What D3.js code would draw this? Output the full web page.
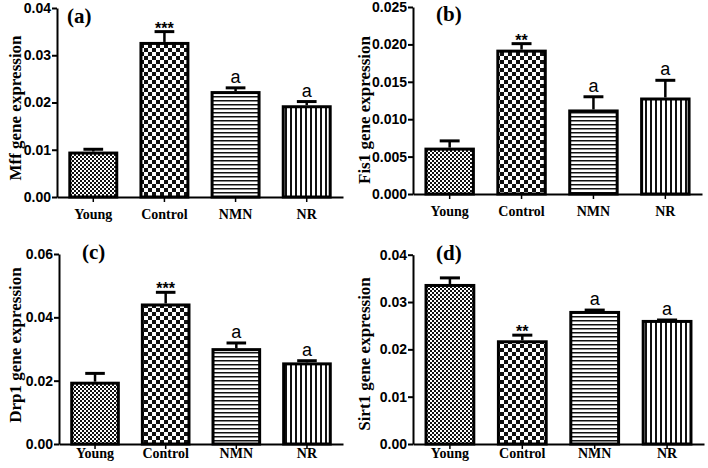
<!DOCTYPE html>
<html><head><meta charset="utf-8">
<script src="https://cdn.jsdelivr.net/npm/d3@7/dist/d3.min.js"></script>
<style>body{margin:0;background:#fff}svg{display:block}</style>
</head><body>
<svg id="c" width="708" height="468"></svg>
<script>
const categories = ["Young", "Control", "NMN", "NR"];
const panelLetters = ["(a)", "(b)", "(c)", "(d)"];
const yTitles = ["Mff gene expression", "Fis1 gene expression", "Drp1 gene expression", "Sirt1 gene expression"];
const yMax = [0.04, 0.025, 0.06, 0.04];
const yTicks = [
  ["0.00","0.01","0.02","0.03","0.04"],
  ["0.000","0.005","0.010","0.015","0.020","0.025"],
  ["0.00","0.02","0.04","0.06"],
  ["0.00","0.01","0.02","0.03","0.04"]
];
const mffMean = [0.0093, 0.0325, 0.0221, 0.0191];
const mffErr  = [0.0101, 0.0350, 0.0231, 0.0202];
const fis1Mean = [0.0060, 0.0191, 0.0111, 0.0127];
const fis1Err  = [0.0071, 0.0201, 0.0130, 0.0152];
const drp1Mean = [0.0192, 0.0439, 0.0298, 0.0253];
const drp1Err  = [0.0223, 0.0479, 0.0319, 0.0263];
const sirt1Mean = [0.0335, 0.0216, 0.0278, 0.0259];
const sirt1Err  = [0.0351, 0.0230, 0.0283, 0.0262];
const mffSig = ["", "***", "a", "a"];
const fis1Sig = ["", "**", "a", "a"];
const drp1Sig = ["", "***", "a", "a"];
const sirt1Sig = ["", "**", "a", "a"];

const means = [mffMean, fis1Mean, drp1Mean, sirt1Mean];
const errs = [mffErr, fis1Err, drp1Err, sirt1Err];
const sigs = [mffSig, fis1Sig, drp1Sig, sirt1Sig];

// layout (pixel frames for each panel)
const frames = [
  {x0:57, x1:343, yb:197, yt:8, tx:16, tcy:108, lx:10, ly:15, xly:12},
  {x0:413, x1:702, yb:194, yt:7, tx:365, tcy:110, lx:23, ly:14, xly:12},
  {x0:59, x1:343, yb:444, yt:254, tx:16, tcy:345, lx:23, ly:5, xly:4},
  {x0:413, x1:704, yb:444, yt:254.7, tx:365, tcy:354, lx:23, ly:5, xly:4}
];

const svg = d3.select("#c");
const defs = svg.append("defs");
// Young: fine checker
let p = defs.append("pattern").attr("id","pYoung").attr("patternUnits","userSpaceOnUse").attr("width",4).attr("height",4);
p.append("rect").attr("width",4).attr("height",4).attr("fill","#fff");
p.append("rect").attr("width",2).attr("height",2).attr("fill","#111");
p.append("rect").attr("x",2).attr("y",2).attr("width",2).attr("height",2).attr("fill","#111");
// Control: coarse checker
p = defs.append("pattern").attr("id","pControl").attr("patternUnits","userSpaceOnUse").attr("width",8).attr("height",8);
p.append("rect").attr("width",8).attr("height",8).attr("fill","#fff");
p.append("rect").attr("width",4).attr("height",4).attr("fill","#111");
p.append("rect").attr("x",4).attr("y",4).attr("width",4).attr("height",4).attr("fill","#111");
// NMN: horizontal stripes
p = defs.append("pattern").attr("id","pNMN").attr("patternUnits","userSpaceOnUse").attr("width",4).attr("height",4);
p.append("rect").attr("width",4).attr("height",4).attr("fill","#fff");
p.append("rect").attr("y",0).attr("width",4).attr("height",1.5).attr("fill","#111");
// NR: vertical stripes
p = defs.append("pattern").attr("id","pNR").attr("patternUnits","userSpaceOnUse").attr("width",5).attr("height",5);
p.append("rect").attr("width",5).attr("height",5).attr("fill","#fff");
p.append("rect").attr("x",0).attr("width",2).attr("height",5).attr("fill","#111");
const fills = ["url(#pYoung)","url(#pControl)","url(#pNMN)","url(#pNR)"];

frames.forEach((f, i) => {
  const g = svg.append("g");
  const x = d3.scaleBand().domain(categories).range([f.x0, f.x1]).paddingInner(0.34).paddingOuter(0.18);
  const y = d3.scaleLinear().domain([0, yMax[i]]).range([f.yb, f.yt]);
  const data = categories.map((c, k) => ({c, m: means[i][k], e: errs[i][k], s: sigs[i][k], fill: fills[k]}));

  // bars
  g.selectAll("rect.bar").data(data).join("rect").attr("class","bar")
    .attr("x", d => x(d.c)).attr("width", x.bandwidth())
    .attr("y", d => y(d.m)).attr("height", d => y(0) - y(d.m))
    .attr("fill", d => d.fill).attr("stroke","#000").attr("stroke-width",3);

  // error bars
  const cw = x.bandwidth() * 0.21;
  g.selectAll("line.ev").data(data).join("line").attr("class","ev")
    .attr("x1", d => x(d.c) + x.bandwidth()/2).attr("x2", d => x(d.c) + x.bandwidth()/2)
    .attr("y1", d => y(d.m) - 1.5).attr("y2", d => y(d.e))
    .attr("stroke","#000").attr("stroke-width",2.5);
  g.selectAll("line.ec").data(data).join("line").attr("class","ec")
    .attr("x1", d => x(d.c) + x.bandwidth()/2 - cw).attr("x2", d => x(d.c) + x.bandwidth()/2 + cw)
    .attr("y1", d => y(d.e)).attr("y2", d => y(d.e))
    .attr("stroke","#000").attr("stroke-width",3);

  // significance labels
  g.selectAll("text.sig").data(data.filter(d => d.s)).join("text").attr("class","sig")
    .attr("x", d => x(d.c) + x.bandwidth()/2)
    .attr("y", d => y(d.e) - (d.s === "a" ? 5 : -2))
    .attr("text-anchor","middle")
    .attr("font-family","Liberation Sans, Arial, sans-serif")
    .attr("font-size", d => d.s === "a" ? 18 : 16)
    .attr("font-weight", d => d.s === "a" ? "normal" : "bold")
    .text(d => d.s);

  // y axis
  const ya = g.append("g").attr("transform", `translate(${f.x0},0)`)
    .call(d3.axisLeft(y).tickValues(yTicks[i].map(Number)).tickFormat((d, k) => yTicks[i][k]).tickSize(5).tickSizeOuter(0));
  ya.select(".domain").attr("stroke","#000").attr("stroke-width",2);
  ya.selectAll(".tick line").attr("stroke","#000").attr("stroke-width",2);
  ya.selectAll(".tick text").attr("font-family","Liberation Sans, Arial, sans-serif")
    .attr("font-size",14).attr("font-weight","bold").attr("fill","#000").attr("x",-6);

  // x axis
  const xa = g.append("g").attr("transform", `translate(0,${f.yb})`)
    .call(d3.axisBottom(x).tickSize(5).tickSizeOuter(0));
  xa.select(".domain").attr("stroke","#000").attr("stroke-width",2);
  xa.selectAll(".tick line").attr("stroke","#000").attr("stroke-width",1.5);
  xa.selectAll(".tick text").attr("font-family","Liberation Serif, Times New Roman, serif")
    .attr("font-size",14).attr("font-weight","bold").attr("fill","#000").attr("y",f.xly);

  // y title
  g.append("text").attr("transform", `translate(${f.tx + 5},${f.tcy}) rotate(-90)`)
    .attr("text-anchor","middle")
    .attr("font-family","Liberation Serif, Times New Roman, serif")
    .attr("font-size",17).attr("font-weight","bold").text(yTitles[i]);

  // panel letter
  g.append("text").attr("x", f.x0 + f.lx).attr("y", f.yt + f.ly)
    .attr("font-family","Liberation Serif, Times New Roman, serif")
    .attr("font-size",21).attr("font-weight","bold").text(panelLetters[i]);
});
</script>
</body></html>
